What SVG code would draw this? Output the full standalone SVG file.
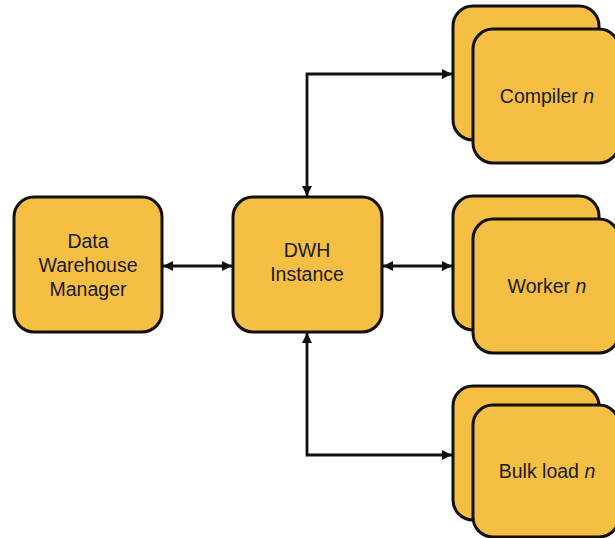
<svg xmlns="http://www.w3.org/2000/svg" width="615" height="538" viewBox="0 0 615 538">
  <style>
    .box { fill: #F4BF42; stroke: #111; stroke-width: 3; }
    .lbl { font-family: "Liberation Sans", Arial, sans-serif; font-size: 19.5px; fill: #1a1a1a; text-anchor: middle; }
    .link { fill: none; stroke: #111; stroke-width: 2.8; marker-start: url(#head); marker-end: url(#head); }
  </style>
  <defs>
    <marker id="head" viewBox="0 0 10 10" refX="10" refY="5" markerWidth="3.6" markerHeight="3.6" orient="auto-start-reverse" markerUnits="strokeWidth">
      <path d="M0,0 L10,5 L0,10 Z" fill="#111"/>
    </marker>
  </defs>
  <rect width="615" height="538" fill="#fff"/>

  <g id="connectors">
    <path class="link" d="M163,266 L232,266"/>
    <path class="link" d="M383,266 L452,266"/>
    <path class="link" d="M307,196 L307,74 L452,74"/>
    <path class="link" d="M307,333 L307,455 L452,455"/>
  </g>

  <g id="dwm">
    <rect class="box" x="14" y="197" width="148" height="135" rx="20"/>
    <text class="lbl" x="88" y="248">Data</text>
    <text class="lbl" x="88" y="272">Warehouse</text>
    <text class="lbl" x="88" y="296">Manager</text>
  </g>

  <g id="dwh">
    <rect class="box" x="233" y="197" width="149" height="135" rx="20"/>
    <text class="lbl" x="307" y="257">DWH</text>
    <text class="lbl" x="307" y="281">Instance</text>
  </g>

  <g id="compiler">
    <rect class="box" x="453" y="6" width="146" height="134" rx="20"/>
    <rect class="box" x="473" y="29" width="146" height="134" rx="20"/>
    <text class="lbl" x="547" y="103">Compiler <tspan font-style="italic">n</tspan></text>
  </g>

  <g id="worker">
    <rect class="box" x="453" y="196" width="146" height="134" rx="20"/>
    <rect class="box" x="473" y="219" width="146" height="134" rx="20"/>
    <text class="lbl" x="547" y="293">Worker <tspan font-style="italic">n</tspan></text>
  </g>

  <g id="bulkload">
    <rect class="box" x="453" y="386" width="146" height="134" rx="20"/>
    <rect class="box" x="473" y="405" width="146" height="132" rx="20"/>
    <text class="lbl" x="547" y="478">Bulk load <tspan font-style="italic">n</tspan></text>
  </g>
</svg>
